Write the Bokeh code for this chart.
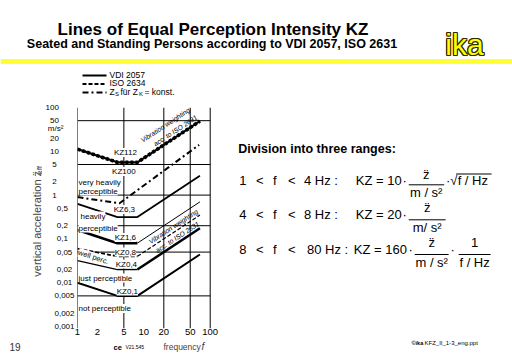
import math
from bokeh.plotting import figure
from bokeh.layouts import column, row
from bokeh.models import Range1d, LinearScale, Label, FixedTicker
from bokeh.embed import file_html
from bokeh.resources import INLINE

# ---------------- data ----------------
FREQ = [1, 4, 8, 70]                       # corner frequencies of the KZ curves, Hz
KZ112_VDI = [11.2, 5.6, 5.6, 49.0]
KZ112_ISO = [11.2, 5.6, 5.6, 49.0]
KZ6_3 = [0.63, 0.315, 0.315, 2.76]
KZ1_6 = [0.16, 0.08, 0.08, 0.70]
KZ0_8_ISO = [0.06, 0.04, 0.04, 0.35]
KZ0_4 = [0.032, 0.02, 0.02, 0.175]
KZ0_1 = [0.01, 0.005, 0.005, 0.044]
ZS_FREQ = [1, 4.3, 68]                     # Zs for Zk = const (dash-dot)
ZS_ACC = [0.9, 0.65, 14.0]

X_TICKS = [1, 2, 5, 10, 20, 50, 100]
X_TICK_LABELS = ["1", "2", "5", "10", "20", "50", "100"]
Y_TICKS = [0.001, 0.002, 0.005, 0.01, 0.02, 0.05, 0.1, 0.2, 0.5, 1, 2, 5, 10, 20, 50, 100]
Y_TICK_LABELS = ["0,001", "0,002", "0,005", "0,01", "0,02", "0,05", "0,1", "0,2", "0,5",
                 "1", "2", "5", "10", "20", "50", "100"]
Y_UNIT = "m/s²"
GRID_FREQ = [1, 5, 20, 50, 100]
GRID_ACC = [50, 5, 1, 0.2, 0.05, 0.005]

# ---------------- layout calibration ----------------
W, H = 512, 354
HEAD_H = 97          # header strip
FOOT_H = 14          # footer strip
MID_H = H - HEAD_H - FOOT_H
STRIP_W = 42         # left strip with the axis title
LEFT = 76            # page x of the chart frame
FRAME_TOP, FRAME_BOT = 107, 328
PX_DEC_X, PX_DEC_Y = 66.5, 43.8
FRAME_W = W - LEFT
x_end = X_TICKS[0] * 10 ** (FRAME_W / PX_DEC_X)
y_top = Y_TICKS[-1]
y_start = y_top * 10 ** (-(FRAME_BOT - FRAME_TOP) / PX_DEC_Y)
unit_tick = 10 ** (math.log10(Y_TICKS[-2]) - 7.5 / PX_DEC_Y)

FONT = "Liberation Sans"
NBSP = "\u00a0"
Y_PAD = [0, 0, 0, 1, 1, 1, 3, 3, 3, 8, 8, 8, 7, 7, 7, 7]


def label(fig, x, y, text, size, align="left", baseline="middle", style="normal",
          color="black", angle=0.0, bg=None, xo=0, yo=0, **kw):
    fig.add_layout(Label(x=x, y=y, text=text, text_font=FONT, text_font_size=f"{size}px",
                         text_align=align, text_baseline=baseline, text_font_style=style,
                         text_color=color, angle=angle, background_fill_color=bg,
                         x_offset=xo, y_offset=yo, **kw))


def pixel_fig(w, h, x0, y0):
    f = figure(width=w, height=h, x_range=Range1d(x0, x0 + w), y_range=Range1d(y0 + h, y0),
               output_backend="svg", toolbar_location=None, title=None,
               x_axis_location=None, y_axis_location=None,
               min_border_left=0, min_border_right=0, min_border_top=0, min_border_bottom=0)
    f.grid.visible = False
    f.outline_line_color = None
    f.background_fill_color = "white"
    f.border_fill_color = "white"
    return f


# ================= header =================
head = pixel_fig(W, HEAD_H, 0, 0)
head.quad(left=[0], right=[W], top=[58.5], bottom=[63.5], fill_color="#FFFF33",
          line_color=None)
label(head, 212.5, 28.5, "Lines of Equal Perception Intensity KZ", 17, align="center",
      baseline="alphabetic", style="bold")
label(head, 211.5, 43, "Seated and Standing Persons according to VDI 2057, ISO 2631", 12.5,
      align="center", baseline="alphabetic", style="bold")
for dx, dy in [(-1, 0), (1, 0), (0, -1), (0, 1), (-1, -1), (1, 1), (-1, 1), (1, -1)]:
    label(head, 464, 43.5, "ika", 30, align="center", baseline="alphabetic",
          color="#2a2a00", xo=dx, yo=dy)
label(head, 464, 43.5, "ika", 30, align="center", baseline="alphabetic", color="#FFFF00")
# legend
head.line([82, 106], [75, 75], line_color="black", line_width=2)
head.line([82, 106], [83.5, 83.5], line_color="black", line_width=2, line_dash="4 2")
head.line([82, 106], [92, 92], line_color="black", line_width=2, line_dash="6 3 2 3")
label(head, 109, 74, "VDI 2057", 8.5)
label(head, 109, 82.5, "ISO 2634", 8.5)
label(head, 109, 91, "Z", 8.5)
label(head, 114.5, 93, "S", 6)
label(head, 120, 91, "für Z", 8.5)
label(head, 138.5, 93, "K", 6)
label(head, 144, 91, "= konst.", 8.5)

# ================= left strip (axis title) =================
strip = pixel_fig(STRIP_W, MID_H, 0, HEAD_H)
label(strip, 36, 283, "vertical acceleration z\u0308", 11, angle=math.pi / 2, color="#444444")
label(strip, 38.5, 171, "eff", 8, angle=math.pi / 2, color="#444444")

# ================= chart =================
p = figure(width=W - STRIP_W, height=MID_H, x_axis_type="log", y_axis_type="log",
           x_range=Range1d(X_TICKS[0], x_end), y_range=Range1d(y_start, y_top),
           output_backend="svg", toolbar_location=None, title=None,
           min_border_left=LEFT - STRIP_W, min_border_right=0,
           min_border_top=FRAME_TOP - HEAD_H, min_border_bottom=H - FOOT_H - FRAME_BOT)
p.background_fill_color = "white"
p.border_fill_color = "white"
p.outline_line_color = None
p.grid.visible = False
p.extra_x_ranges = {"px": Range1d(LEFT, W)}
p.extra_x_scales = {"px": LinearScale()}
p.extra_y_ranges = {"py": Range1d(FRAME_BOT, FRAME_TOP)}
p.extra_y_scales = {"py": LinearScale()}
PX = dict(x_range_name="px", y_range_name="py")

for ax in (p.xaxis[0], p.yaxis[0]):
    ax.axis_line_color = None
    ax.major_tick_line_color = None
    ax.minor_tick_line_color = None
    ax.major_tick_in = 0
    ax.major_tick_out = 0
    ax.minor_tick_in = 0
    ax.minor_tick_out = 0
    ax.major_label_text_font = FONT
    ax.major_label_text_color = "black"

p.xaxis.ticker = FixedTicker(ticks=X_TICKS)
p.xaxis.major_label_overrides = {t: l for t, l in zip(X_TICKS, X_TICK_LABELS)}
p.xaxis.major_label_text_font_size = "9.5px"
p.xaxis.major_label_standoff = 0

y_over = {t: l + NBSP * n for t, l, n in zip(Y_TICKS, Y_TICK_LABELS, Y_PAD)}
y_over[unit_tick] = Y_UNIT + NBSP * 5
p.yaxis.ticker = FixedTicker(ticks=Y_TICKS + [unit_tick])
p.yaxis.major_label_overrides = y_over
p.yaxis.major_label_text_font_size = "8px"
p.yaxis.major_label_standoff = 3

# grid
p.segment(x0=GRID_FREQ, y0=[y_start] * len(GRID_FREQ), x1=GRID_FREQ,
          y1=[y_top] * len(GRID_FREQ), line_color="black", line_width=1)
p.segment(x0=[X_TICKS[0]] * len(GRID_ACC), y0=GRID_ACC, x1=[X_TICKS[-1]] * len(GRID_ACC),
          y1=GRID_ACC, line_color="black", line_width=1)

# curves
p.line(FREQ, KZ112_VDI, line_color="black", line_width=2.2)
p.line(FREQ, KZ112_ISO, line_color="black", line_width=3.6, line_dash="3 2")
p.line(FREQ, KZ6_3, line_color="black", line_width=1.8)
p.line(FREQ[:3], KZ1_6[:3], line_color="black", line_width=2.6)
p.line(FREQ[2:], KZ1_6[2:], line_color="black", line_width=1.0)
p.line(FREQ[:3], KZ0_8_ISO[:3], line_color="black", line_width=1.8, line_dash="4 2")
p.line(FREQ[2:], KZ0_8_ISO[2:], line_color="black", line_width=1.2, line_dash="4 2")
p.line(FREQ[:3], KZ0_4[:3], line_color="black", line_width=1.3)
p.line(FREQ[2:], KZ0_4[2:], line_color="black", line_width=2.5)
p.line(FREQ, KZ0_1, line_color="black", line_width=2.0)
p.line(ZS_FREQ, ZS_ACC, line_color="black", line_width=2.0, line_dash="6 3 2 3")

# in-chart annotations
for txt, x, y in [("KZ112", 124, 152), ("KZ100", 122.5, 171), ("KZ6,3", 123, 209),
                  ("KZ1,6", 124, 237), ("KZ0,8", 124, 251.5), ("KZ0,4", 125, 263.5),
                  ("KZ0,1", 126, 290.5)]:
    label(p, x, y, txt, 8, align="center", bg="white", **PX)
for txt, x, y in [("very heavily", 77, 181.5), ("perceptible", 77, 190.5),
                  ("heavily", 79, 215.5), ("perceptible", 77, 227.5),
                  ("just perceptible", 77, 277.5), ("not perceptible", 77, 308)]:
    label(p, x, y, txt, 8, bg="white", **PX)
label(p, 92, 256.5, "well perc.", 7.5, align="center", angle=-0.31, bg="white", **PX)
ANG = math.atan(PX_DEC_Y / PX_DEC_X)
for txt, x, y in [("Vibration weighting", 164, 124.5), ("acc. to ISO 2631", 174, 130),
                  ("Vibration weighting", 172, 226), ("acc. to ISO 2631", 176, 236.5)]:
    label(p, x, y, txt, 6.8, align="center", style="italic", angle=ANG, **PX)

# formulas on the right
label(p, 237, 148, "Division into three ranges:", 12.5, style="bold", **PX)
ROWS = [("1", "4 Hz :", 303, "KZ = 10", 355, 180.0),
        ("4", "8 Hz :", 303, "KZ = 20", 355, 213.7),
        ("8", "80 Hz :", 306, "KZ = 160", 353, 249.0)]
for lo, hi, hx, kz, kx, y in ROWS:
    label(p, 238, y, lo, 13, **PX)
    label(p, 255, y, "<", 13, **PX)
    label(p, 272, y, "f", 13, **PX)
    label(p, 287, y, "<", 13, **PX)
    label(p, hx, y, hi, 13, **PX)
    label(p, kx, y, kz, 13, **PX)

ZDD = "z\u0308"
label(p, 404, 180, "·", 13, align="center", **PX)
label(p, 425.5, 174, ZDD, 13, align="center", **PX)
label(p, 425.5, 191.7, "m / s²", 13, align="center", **PX)
label(p, 447.5, 180, "·", 13, align="center", **PX)
label(p, 449.5, 180, "√", 13, **PX)
label(p, 457, 180, "f / Hz", 13, **PX)
label(p, 404, 213.7, "·", 13, align="center", **PX)
label(p, 426.5, 206.7, ZDD, 13, align="center", **PX)
label(p, 426.5, 226.7, "m/ s²", 13, align="center", **PX)
label(p, 410, 249, "·", 13, align="center", **PX)
label(p, 431, 241.7, ZDD, 13, align="center", **PX)
label(p, 431, 261.7, "m / s²", 13, align="center", **PX)
label(p, 452, 249, "·", 13, align="center", **PX)
label(p, 474, 242, "1", 13, align="center", **PX)
label(p, 474, 261.7, "f / Hz", 13, align="center", **PX)
p.segment(x0=[408, 408, 414, 458, 455.5], y0=[184.3, 219.3, 254, 254, 173.5],
          x1=[443.5, 445, 448, 490, 491], y1=[184.3, 219.3, 254, 254, 173.5],
          line_color="black", line_width=1, **PX)

# ================= footer =================
foot = pixel_fig(W, FOOT_H, 0, H - FOOT_H)
label(foot, 9, 346.5, "19", 10, color="#333333")
label(foot, 113, 346.5, "ce", 7.5, style="bold")
label(foot, 125, 346.5, "V21.545", 5)
label(foot, 163, 346, "frequency", 8.5, color="#444444")
label(foot, 201, 346, "f", 10, style="italic", color="#444444")
label(foot, 411, 342.5, "©ika", 5.5, style="bold")
label(foot, 424, 342.5, "KFZ_II_1-3_eng.ppt", 6)

layout = column(head, row(strip, p, spacing=0), foot, spacing=0)
open("out.html", "w").write(file_html(layout, INLINE))
